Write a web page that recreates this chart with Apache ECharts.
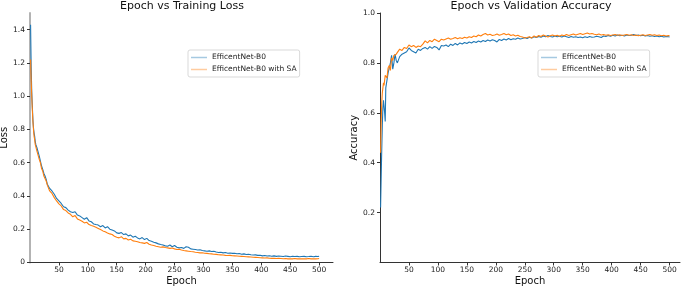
<!DOCTYPE html>
<html>
<head>
<meta charset="utf-8">
<script src="https://cdn.jsdelivr.net/npm/echarts@6/dist/echarts.min.js"></script>
<style>
html,body{margin:0;padding:0;background:#fff;}
#chart{width:685px;height:288px;}
</style>
</head>
<body>
<div id="chart"></div>
<script>
const epochs = [1,2,3,4,5,6,7,8,9,10,
12,14,16,18,20,22,24,26,28,30,
34,38,42,46,50,54,58,62,66,70,
74,78,82,86,90,94,98,102,106,110,
114,118,122,126,130,134,138,142,146,150,
154,158,162,166,170,174,178,182,186,190,
194,198,202,206,210,214,218,222,226,230,
234,238,242,246,250,254,258,262,266,270,
274,278,282,286,290,294,298,302,306,310,
314,318,322,326,330,334,338,342,346,350,
354,358,362,366,370,374,378,382,386,390,
394,398,402,406,410,414,418,422,426,430,
434,438,442,446,450,454,458,462,466,470,
474,478,482,486,490,494,498,500];

const lossB0 = [1.43,1.18,1.03,0.94,0.86,0.81,0.78,0.76,0.73,0.71,
0.69,0.68,0.64,0.61,0.58,0.56,0.535,0.52,0.50,0.47,
0.445,0.43,0.41,0.385,0.37,0.355,0.335,0.33,0.315,0.305,
0.30,0.305,0.285,0.28,0.27,0.26,0.27,0.25,0.245,0.232,
0.228,0.225,0.215,0.222,0.208,0.215,0.2,0.195,0.19,0.178,
0.175,0.18,0.168,0.172,0.16,0.165,0.152,0.158,0.148,0.142,
0.15,0.138,0.145,0.132,0.128,0.122,0.118,0.112,0.108,0.105,
0.1,0.098,0.105,0.095,0.102,0.092,0.088,0.09,0.085,0.095,
0.092,0.082,0.08,0.078,0.075,0.077,0.072,0.07,0.068,0.07,
0.066,0.068,0.063,0.06,0.062,0.058,0.06,0.056,0.057,0.055,
0.056,0.053,0.054,0.05,0.052,0.048,0.05,0.047,0.045,0.046,
0.043,0.044,0.04,0.042,0.039,0.041,0.038,0.04,0.037,0.039,
0.038,0.036,0.039,0.037,0.035,0.038,0.036,0.037,0.035,0.036,
0.037,0.035,0.036,0.038,0.035,0.037,0.036,0.038];

const lossSA = [1.22,1.10,1.0,0.92,0.85,0.80,0.76,0.74,0.71,0.70,
0.67,0.66,0.62,0.60,0.565,0.55,0.52,0.505,0.49,0.465,
0.43,0.415,0.39,0.37,0.352,0.34,0.318,0.312,0.298,0.29,
0.275,0.282,0.262,0.255,0.248,0.238,0.242,0.228,0.222,0.218,
0.212,0.205,0.198,0.19,0.185,0.178,0.172,0.168,0.158,0.152,
0.148,0.155,0.142,0.145,0.135,0.14,0.13,0.128,0.125,0.12,
0.118,0.115,0.12,0.11,0.105,0.102,0.098,0.095,0.092,0.094,
0.09,0.088,0.085,0.087,0.082,0.078,0.08,0.075,0.072,0.07,
0.068,0.066,0.065,0.062,0.06,0.058,0.059,0.056,0.055,0.053,
0.052,0.05,0.049,0.047,0.046,0.045,0.043,0.042,0.043,0.041,
0.04,0.039,0.038,0.037,0.036,0.035,0.034,0.033,0.032,0.031,
0.03,0.029,0.028,0.027,0.028,0.026,0.025,0.026,0.024,0.025,
0.024,0.023,0.024,0.022,0.023,0.022,0.024,0.022,0.023,0.022,
0.023,0.022,0.024,0.022,0.023,0.022,0.023,0.024];

const accB0 = [0.22,0.34,0.45,0.55,0.62,0.65,0.65,0.60,0.565,0.70,
0.73,0.76,0.78,0.80,0.83,0.775,0.80,0.835,0.81,0.80,
0.825,0.835,0.84,0.845,0.86,0.85,0.845,0.84,0.855,0.85,
0.858,0.862,0.855,0.865,0.858,0.866,0.862,0.852,0.87,0.868,
0.872,0.865,0.875,0.87,0.878,0.872,0.88,0.876,0.882,0.878,
0.884,0.88,0.886,0.882,0.888,0.884,0.89,0.886,0.892,0.888,
0.893,0.89,0.884,0.894,0.89,0.896,0.892,0.898,0.893,0.897,
0.895,0.9,0.896,0.898,0.902,0.898,0.903,0.9,0.905,0.902,
0.906,0.903,0.908,0.905,0.91,0.906,0.904,0.908,0.905,0.907,
0.904,0.908,0.905,0.902,0.906,0.903,0.905,0.902,0.904,0.901,
0.905,0.902,0.906,0.903,0.904,0.907,0.905,0.902,0.908,0.906,
0.91,0.907,0.911,0.908,0.912,0.909,0.911,0.908,0.912,0.91,
0.911,0.914,0.91,0.912,0.909,0.911,0.908,0.91,0.907,0.909,
0.906,0.908,0.905,0.907,0.904,0.906,0.905,0.904];

const accSA = [0.44,0.56,0.64,0.68,0.70,0.72,0.71,0.73,0.75,0.755,
0.74,0.78,0.79,0.77,0.82,0.81,0.83,0.825,0.835,0.84,
0.855,0.85,0.862,0.858,0.872,0.865,0.87,0.862,0.868,0.865,
0.875,0.888,0.88,0.89,0.885,0.895,0.89,0.885,0.895,0.892,
0.896,0.9,0.895,0.898,0.902,0.897,0.901,0.898,0.903,0.9,
0.905,0.902,0.908,0.905,0.912,0.908,0.914,0.918,0.912,0.915,
0.91,0.912,0.916,0.911,0.914,0.918,0.913,0.916,0.91,0.913,
0.908,0.911,0.906,0.904,0.9,0.902,0.905,0.9,0.908,0.903,
0.91,0.906,0.912,0.908,0.904,0.909,0.912,0.908,0.911,0.907,
0.912,0.909,0.914,0.91,0.913,0.916,0.912,0.915,0.918,0.914,
0.917,0.92,0.916,0.918,0.915,0.913,0.916,0.912,0.914,0.911,
0.913,0.91,0.912,0.914,0.911,0.913,0.91,0.912,0.914,0.911,
0.913,0.91,0.912,0.909,0.911,0.913,0.91,0.912,0.914,0.911,
0.913,0.91,0.912,0.909,0.911,0.908,0.91,0.909];

const xTicks = [50,100,150,200,250,300,350,400,450,500];
const lossTicks = [0,0.2,0.4,0.6,0.8,1.0,1.2,1.4];
const accTicks = [0.2,0.4,0.6,0.8,1.0];
const names = ['EfficentNet-B0','EfficentNet-B0 with SA'];
const titles = ['Epoch vs Training Loss','Epoch vs Validation Accuracy'];

const FONT = 'DejaVu Sans';
const BLUE = '#1f77b4', ORANGE = '#ff7f0e';

function pairs(ys){ return epochs.map((e,i)=>[e, ys[i]]); }

function xAxis(idx, max){
  return {
    type:'value', gridIndex:idx, min:0, max:max,
    name:'Epoch', nameLocation:'middle', nameGap:14, nameMoveOverlap:false,
    nameTextStyle:{fontFamily:FONT,fontSize:10,color:'#111'},
    axisLine:{lineStyle:{color:'#333',width:1}},
    axisTick:{show:true,length:3,customValues:xTicks,lineStyle:{color:'#333'}},
    axisLabel:{customValues:xTicks,margin:4,fontFamily:FONT,fontSize:7.5,color:'#222'},
    splitLine:{show:false}
  };
}

function yAxis(idx, max, ticks, nm, lineColor, lineWidth, fmt){
  return {
    type:'value', gridIndex:idx, min:0, max:max,
    name:nm, nameLocation:'middle', nameGap:21, nameRotate:90, nameMoveOverlap:false,
    nameTextStyle:{fontFamily:FONT,fontSize:10,color:'#111'},
    axisLine:{show:true,lineStyle:{color:lineColor,width:lineWidth}},
    axisTick:{show:true,length:3,customValues:ticks,lineStyle:{color:'#333'}},
    axisLabel:{customValues:ticks,margin:5,fontFamily:FONT,fontSize:7.5,color:'#222',formatter:fmt},
    splitLine:{show:false}
  };
}

function legend(left, top){
  return {
    left:left, top:top, orient:'vertical',
    backgroundColor:'#fff', borderColor:'#d9d9d9', borderWidth:1, borderRadius:2,
    padding:[3,3,3,3], itemGap:3, itemWidth:16, itemHeight:1.5, icon:'rect',
    textStyle:{fontFamily:FONT,fontSize:7.5,color:'#222',lineHeight:9},
    data:[
      {name:names[0], itemStyle:{color:'rgba(31,119,180,0.4)'}},
      {name:names[1], itemStyle:{color:'rgba(255,127,14,0.4)'}}
    ],
    selectedMode:false
  };
}

function line(name, color, xi, ys){
  return {type:'line', name:name, xAxisIndex:xi, yAxisIndex:xi, data:pairs(ys),
    showSymbol:false, symbol:'none', lineStyle:{color:color,width:1.1}, itemStyle:{color:color}};
}

const chart = echarts.init(document.getElementById('chart'), null, {renderer:'canvas'});
chart.setOption({
  animation:false,
  backgroundColor:'#fff',
  title:[
    {text:titles[0], left:182, top:1, textAlign:'center', textVerticalAlign:'top', padding:0,
     textStyle:{fontFamily:FONT,fontSize:11,fontWeight:'normal',color:'#111'}},
    {text:titles[1], left:531, top:1, textAlign:'center', textVerticalAlign:'top', padding:0,
     textStyle:{fontFamily:FONT,fontSize:11,fontWeight:'normal',color:'#111'}}
  ],
  legend:[legend(188,50), legend(538,50)],
  grid:[
    {left:30, top:13, width:303, height:249.5, outerBoundsMode:'none', containLabel:false},
    {left:380, top:13, width:300, height:249.5, outerBoundsMode:'none', containLabel:false}
  ],
  xAxis:[xAxis(0,524), xAxis(1,518)],
  yAxis:[
    yAxis(0,1.5,lossTicks,'Loss','#b3b3b3',2,v=>v===0?'0':v.toFixed(1)),
    yAxis(1,1.0,accTicks,'Accuracy','#333',1,v=>v.toFixed(1))
  ],
  series:[
    line(names[0],BLUE,0,lossB0),
    line(names[1],ORANGE,0,lossSA),
    line(names[0],BLUE,1,accB0),
    line(names[1],ORANGE,1,accSA)
  ]
});
</script>
</body>
</html>
